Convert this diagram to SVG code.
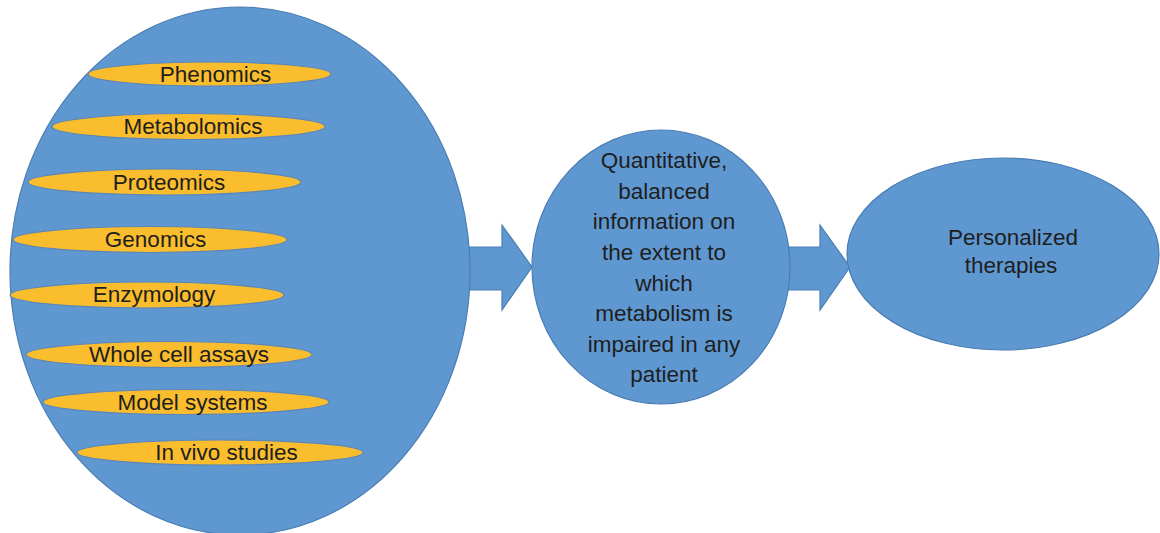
<svg xmlns="http://www.w3.org/2000/svg" width="1160" height="533" viewBox="0 0 1160 533">
<style>
.blue{fill:#5f98d0;stroke:#4a7db3;stroke-width:1.2}
.yel{fill:#f9bd2d;stroke:#5b86b8;stroke-width:1.2}
text{font-family:"Liberation Sans",Arial,sans-serif;font-size:22.5px;fill:#1e1e1e;text-anchor:middle}
</style>
<rect width="1160" height="533" fill="#ffffff"/>
<g id="connectors">
<polygon class="blue" points="466,247 502,247 502,225 532,267 502,310 502,290 466,290"/>
<polygon class="blue" points="786,247 820,247 820,225 850,267 820,310 820,290 786,290"/>
</g>
<g id="sources">
<ellipse class="blue" cx="240" cy="271" rx="230" ry="264"/>
<g id="phenomics"><ellipse class="yel" cx="209.5" cy="74" rx="121.5" ry="12"/><text x="215.5" y="82">Phenomics</text></g>
<g id="metabolomics"><ellipse class="yel" cx="188.5" cy="126.5" rx="136.5" ry="13"/><text x="193" y="134">Metabolomics</text></g>
<g id="proteomics"><ellipse class="yel" cx="164.5" cy="182" rx="136.5" ry="13"/><text x="169" y="189.5">Proteomics</text></g>
<g id="genomics"><ellipse class="yel" cx="150" cy="239.5" rx="137" ry="13"/><text x="155.5" y="247">Genomics</text></g>
<g id="enzymology"><ellipse class="yel" cx="147" cy="295" rx="137" ry="13"/><text x="154" y="302">Enzymology</text></g>
<g id="wholecell"><ellipse class="yel" cx="169" cy="354.5" rx="143" ry="13"/><text x="179" y="362">Whole cell assays</text></g>
<g id="model"><ellipse class="yel" cx="186" cy="402" rx="143" ry="12.5"/><text x="192.5" y="409.5">Model systems</text></g>
<g id="invivo"><ellipse class="yel" cx="220" cy="452.5" rx="143" ry="12.5"/><text x="226.5" y="460">In vivo studies</text></g>
</g>
<g id="quantitative">
<ellipse class="blue" cx="661" cy="267" rx="129" ry="137"/>
<text x="664" y="168">Quantitative,</text>
<text x="664" y="198.5">balanced</text>
<text x="664" y="229">information on</text>
<text x="664" y="259.5">the extent to</text>
<text x="664" y="290.5">which</text>
<text x="664" y="321">metabolism is</text>
<text x="664" y="351.5">impaired in any</text>
<text x="664" y="382">patient</text>
</g>
<g id="personalized">
<ellipse class="blue" cx="1003" cy="254" rx="156" ry="96"/>
<text x="1013" y="245">Personalized</text>
<text x="1011" y="273">therapies</text>
</g>
</svg>
